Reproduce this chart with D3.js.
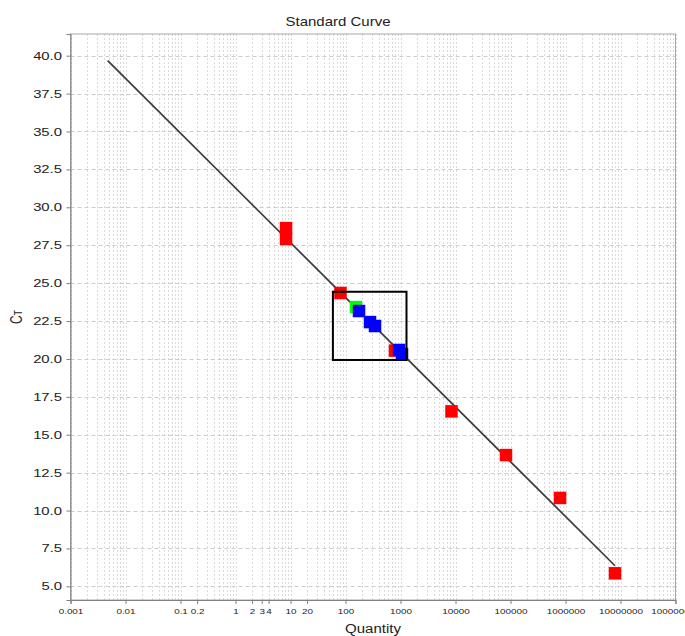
<!DOCTYPE html>
<html>
<head>
<meta charset="utf-8">
<script src="https://cdn.jsdelivr.net/npm/d3@7"></script>
<style>
  body { margin: 0; background: #fff; }
  text { font-family: "Liberation Sans", Arial, sans-serif; fill: #222; }
</style>
</head>
<body>
<script>
var width = 685,
  height = 636,
  margin = { top: 34, right: 9.5, bottom: 36, left: 70.5 };

// standards (red), unknowns (blue), one extra sample (green)
var stdQuantity = [8.3, 8.3, 81, 794, 8450, 82800, 795000, 7940000];
var stdCt = [28.63, 27.91, 24.35, 20.55, 16.54, 13.66, 10.83, 5.86];

var unkQuantity = [176, 279, 344, 940, 1065];
var unkCt = [23.16, 22.43, 22.17, 20.59, 20.32];

var extraQuantity = [155];
var extraCt = [23.42];

// fitted standard curve
var fitQuantity = [0.00474, 7940000];
var fitCt = [39.67, 6.36];

// selection box
var boxQuantity = [59, 1285];
var boxCt = [19.93, 24.43];

var xTickValues = [0.001, 0.01, 0.1, 0.2, 1, 2, 3, 4, 10, 20, 100, 1000, 10000, 100000, 1000000, 10000000, 100000000];
var xTickLabels = ["0.001", "0.01", "0.1", "0.2", "1", "2", "3", "4", "10", "20", "100", "1000", "10000", "100000", "1000000", "10000000", "100000000"];
var yTickValues = [5, 7.5, 10, 12.5, 15, 17.5, 20, 22.5, 25, 27.5, 30, 32.5, 35, 37.5, 40];

var x = d3.scaleLog()
  .domain([0.001, 100000000])
  .range([margin.left, width - margin.right]);

var y = d3.scaleLinear()
  .domain([4.1, 41.43])
  .range([height - margin.bottom, margin.top]);

var svg = d3.select("body")
  .append("svg")
  .attr("width", width)
  .attr("height", height);

// grid
var grid = svg.append("g").attr("class", "grid");

var minor = [];
for (var e = -3; e < 8; e++) {
  for (var m = 1; m < 10; m++) minor.push(m * Math.pow(10, e));
}
minor.push(100000000);

grid.selectAll("line.v")
  .data(minor)
  .enter()
  .append("line")
  .attr("class", "v")
  .attr("x1", function (d) { return Math.round(x(d)) + 0.5; })
  .attr("x2", function (d) { return Math.round(x(d)) + 0.5; })
  .attr("y1", margin.top)
  .attr("y2", height - margin.bottom)
  .attr("stroke", "#dadada")
  .attr("stroke-dasharray", "2,2");

grid.selectAll("line.h")
  .data(yTickValues)
  .enter()
  .append("line")
  .attr("class", "h")
  .attr("x1", margin.left)
  .attr("x2", width - margin.right)
  .attr("y1", function (d) { return Math.round(y(d)) + 0.5; })
  .attr("y2", function (d) { return Math.round(y(d)) + 0.5; })
  .attr("stroke", "#cccccc")
  .attr("stroke-dasharray", "4,3");

// frame
svg.append("rect")
  .attr("x", margin.left)
  .attr("y", margin.top)
  .attr("width", width - margin.left - margin.right)
  .attr("height", height - margin.top - margin.bottom)
  .attr("fill", "none")
  .attr("stroke", "#a8a8a8");

// axes
var xAxis = d3.axisBottom(x)
  .tickValues(xTickValues)
  .tickFormat(function (d, i) { return xTickLabels[i]; })
  .tickSize(4)
  .tickPadding(5);

var gx = svg.append("g")
  .attr("transform", "translate(0," + (height - margin.bottom) + ")")
  .call(xAxis);

gx.select(".domain").attr("stroke", "#808080");
gx.selectAll(".tick line").attr("stroke", "#808080");
gx.selectAll(".tick text")
  .attr("font-size", "7.5px")
  .attr("font-family", "Liberation Sans, Arial, sans-serif")
  .attr("fill", "#222")
  .attr("transform", "scale(1.32,1)");

var yAxis = d3.axisLeft(y)
  .tickValues(yTickValues)
  .tickFormat(d3.format(".1f"))
  .tickSize(4);

var gy = svg.append("g")
  .attr("transform", "translate(" + margin.left + ",0)")
  .call(yAxis);

gy.select(".domain").attr("stroke", "#808080");
gy.selectAll(".tick line").attr("stroke", "#808080");
gy.selectAll(".tick text")
  .attr("font-size", "11px")
  .attr("font-family", "Liberation Sans, Arial, sans-serif")
  .attr("fill", "#222")
  .attr("x", 0)
  .attr("transform", "translate(-8.5,0) scale(1.35,1)");

// fit line
svg.append("line")
  .attr("x1", x(fitQuantity[0]))
  .attr("y1", y(fitCt[0]))
  .attr("x2", x(fitQuantity[1]))
  .attr("y2", y(fitCt[1]))
  .attr("stroke", "#3a3a3a")
  .attr("stroke-width", 1.7);

// markers
var size = 12.5;

function squares(cls, qs, cts, color) {
  svg.append("g")
    .attr("class", cls)
    .selectAll("rect")
    .data(qs)
    .enter()
    .append("rect")
    .attr("x", function (d) { return x(d) - size / 2; })
    .attr("y", function (d, i) { return y(cts[i]) - size / 2; })
    .attr("width", size)
    .attr("height", size)
    .attr("fill", color);
}

squares("std", stdQuantity, stdCt, "#ff0000");
squares("extra", extraQuantity, extraCt, "#00ff00");
squares("unk", unkQuantity, unkCt, "#0000ff");

// selection box
svg.append("rect")
  .attr("x", x(boxQuantity[0]))
  .attr("y", y(boxCt[1]))
  .attr("width", x(boxQuantity[1]) - x(boxQuantity[0]))
  .attr("height", y(boxCt[0]) - y(boxCt[1]))
  .attr("fill", "none")
  .attr("stroke", "#000")
  .attr("stroke-width", 2);

// titles
svg.append("text")
  .attr("transform", "translate(338,26) scale(1.2,1)")
  .attr("text-anchor", "middle")
  .attr("font-size", "12.5px")
  .text("Standard Curve");

svg.append("text")
  .attr("transform", "translate(" + ((margin.left + width - margin.right) / 2) + ",633) scale(1.25,1)")
  .attr("text-anchor", "middle")
  .attr("font-size", "12px")
  .text("Quantity");

var ct = svg.append("text")
  .attr("transform", "translate(22," + ((margin.top + height - margin.bottom) / 2) + ") scale(1.3,1) rotate(-90)")
  .attr("text-anchor", "middle")
  .attr("font-size", "12px");
ct.append("tspan").text("C");
ct.append("tspan").attr("font-size", "9px").text("T");
</script>
</body>
</html>
